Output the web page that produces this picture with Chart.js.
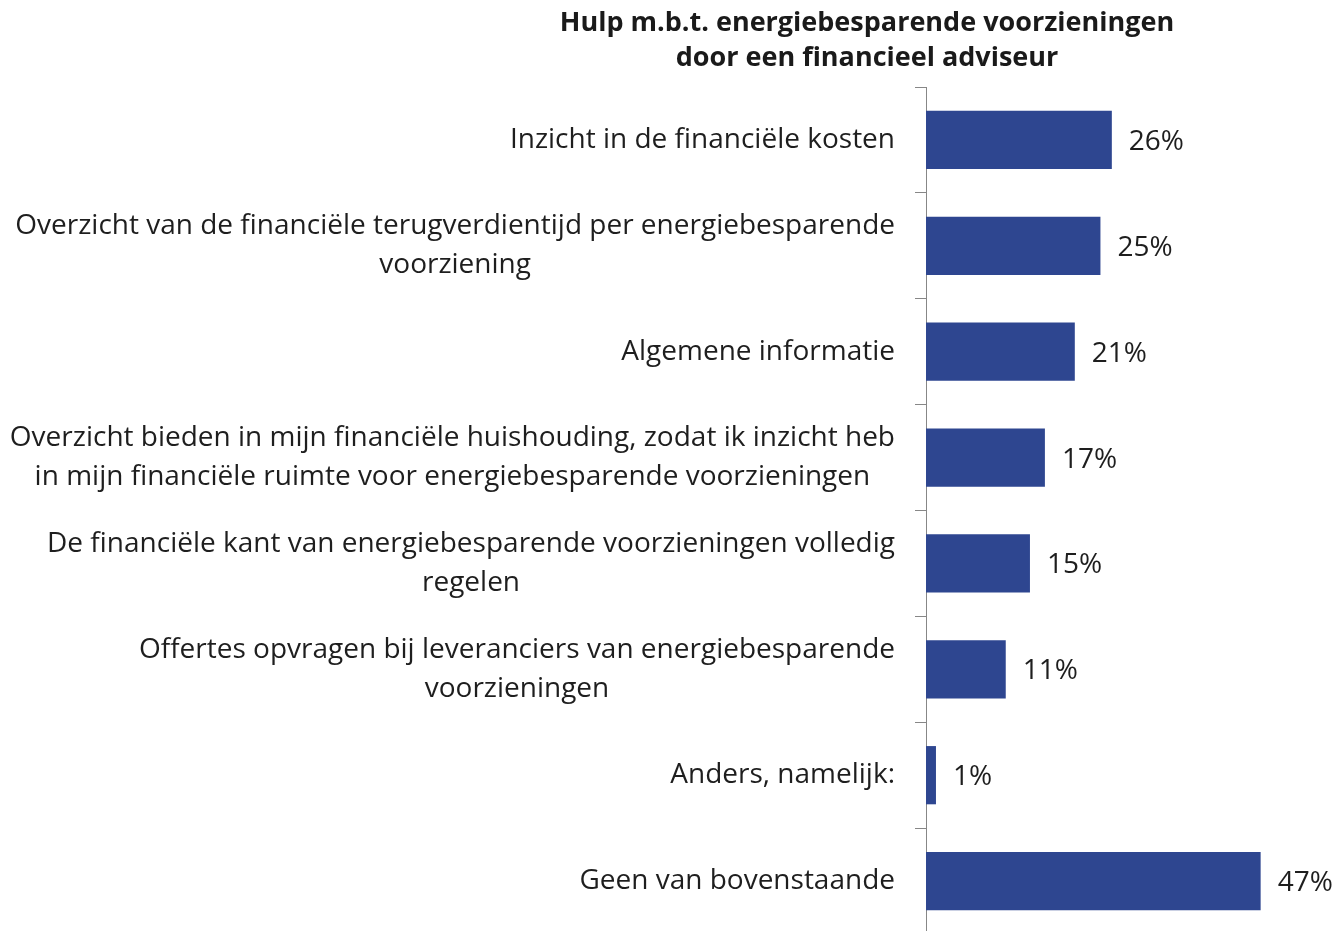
<!DOCTYPE html>
<html>
<head>
<meta charset="utf-8">
<script src="https://cdn.jsdelivr.net/npm/chart.js@4/dist/chart.umd.min.js"></script>
<style>
  html, body { margin: 0; padding: 0; background: #fff; overflow: hidden; }
  #wrap { width: 1337px; height: 934px; position: relative; }
</style>
</head>
<body>
<div id="wrap"><canvas id="grafiek"></canvas></div>
<script>
// data
const titleLines = ['Hulp m.b.t. energiebesparende voorzieningen', 'door een financieel adviseur'];
const categories = [
  ['Inzicht in de financiële kosten'],
  ['Overzicht van de financiële terugverdientijd per energiebesparende', 'voorziening'],
  ['Algemene informatie'],
  ['Overzicht bieden in mijn financiële huishouding, zodat ik inzicht heb', 'in mijn financiële ruimte voor energiebesparende voorzieningen'],
  ['De financiële kant van energiebesparende voorzieningen volledig', 'regelen'],
  ['Offertes opvragen bij leveranciers van energiebesparende', 'voorzieningen'],
  ['Anders, namelijk:'],
  ['Geen van bovenstaande']
];
const values = [26.1, 24.5, 20.9, 16.7, 14.6, 11.2, 1.4, 47.0];
const valueLabels = ['26%', '25%', '21%', '17%', '15%', '11%', '1%', '47%'];
const xMax = 50;

const fontFam = '"Open Sans", Lato, sans-serif';
const labelFont = '28px ' + fontFam;
const titleFont = 'bold 27px ' + fontFam;
const textColor = '#1e1e1e';

// labels links van de as, blok rechts uitgelijnd, regels gecentreerd
const labelPlugin = {
  id: 'labelPlugin',
  afterDraw(chart) {
    const ctx = chart.ctx;
    const yScale = chart.scales.y;
    const rightX = chart.chartArea.left - 31;
    const lineH = 39;
    ctx.save();
    ctx.font = labelFont;
    ctx.fillStyle = textColor;
    ctx.textAlign = 'center';
    ctx.textBaseline = 'middle';
    categories.forEach(function(lines, i) {
      var maxW = 0;
      lines.forEach(function(l) { maxW = Math.max(maxW, ctx.measureText(l).width); });
      var cx = rightX - maxW / 2;
      var cy = yScale.getPixelForValue(i);
      var y0 = cy - (lines.length - 1) * lineH / 2;
      lines.forEach(function(l, k) { ctx.fillText(l, cx, y0 + k * lineH); });
    });

    // waarden naast de balken
    var meta = chart.getDatasetMeta(0);
    ctx.textAlign = 'left';
    meta.data.forEach(function(bar, i) {
      ctx.fillText(valueLabels[i], bar.x + 17, bar.y + 2);
    });

    // titel
    ctx.font = titleFont;
    ctx.textAlign = 'center';
    ctx.fillStyle = '#1a1a1a';
    titleLines.forEach(function(t, k) { ctx.fillText(t, 867, 23 + k * 35); });
    ctx.restore();
  }
};

new Chart(document.getElementById('grafiek'), {
  type: 'bar',
  data: {
    labels: categories,
    datasets: [{
      data: values,
      backgroundColor: '#2e4690',
      borderWidth: 0,
      categoryPercentage: 1,
      barPercentage: 0.55
    }]
  },
  options: {
    indexAxis: 'y',
    responsive: true,
    maintainAspectRatio: false,
    animation: false,
    layout: { padding: { left: 0, top: 87, right: 55, bottom: 0 } },
    plugins: {
      legend: { display: false },
      title: { display: false },
      tooltip: { enabled: false }
    },
    scales: {
      x: { display: false, min: 0, max: xMax },
      y: {
        afterFit: function(scale) { scale.width = 926; },
        ticks: { display: false },
        grid: {
          offset: true,
          drawOnChartArea: false,
          drawTicks: true,
          tickLength: 11,
          color: '#878787',
          lineWidth: 1
        },
        border: { display: true, color: '#878787', width: 1 }
      }
    }
  },
  plugins: [labelPlugin]
});
</script>
</body>
</html>
